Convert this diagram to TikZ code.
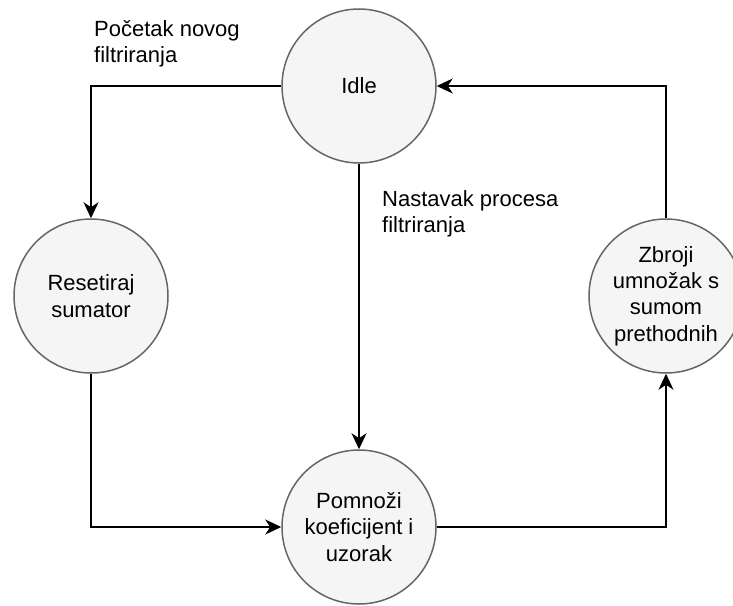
\documentclass[tikz,border=0pt]{standalone}
\usepackage{fontspec}
\setmainfont{Liberation Sans}
\usetikzlibrary{arrows.meta}
\definecolor{sivaispuna}{HTML}{F5F5F5}
\definecolor{sivirub}{HTML}{666666}
\tikzset{
 krug/.style={circle,draw=sivirub,fill=sivaispuna,line width=1.5pt,minimum size=154pt,inner sep=0pt,align=center,font=\fontsize{22}{26.4}\selectfont},
 veza/.style={-{Stealth[length=16pt,width=15pt,inset=5pt]},line width=1.8pt},
 oznaka/.style={anchor=north west,align=left,inner sep=0pt,font=\fontsize{22}{26.4}\selectfont}
}
\newcommand{\stanje}[3]{%
 \node[krug] ({#1}) at ({#2}) {#3};%
}

\begin{document}
\begin{tikzpicture}[x=1pt,y=-1pt]
   \useasboundingbox (0,0) rectangle (733,605);
   \stanje{idle}{359,86}{Idle};
   \stanje{reset}{91,296}{Resetiraj\\sumator};
   \stanje{mnozi}{359,527}{Pomnoži\\koeficijent i\\uzorak};
   \stanje{zbroji}{666,296}{Zbroji\\umnožak s\\sumom\\prethodnih};
   \draw[veza] (idle) -| (reset);
   \draw[veza] (reset) |- (mnozi);
   \draw[veza] (idle) -- (mnozi);
   \draw[veza] (mnozi) -| (zbroji);
   \draw[veza] (zbroji) |- (idle);
   \node[oznaka] (pocetak) at (94,20) {Početak novog\\filtriranja};
   \node[oznaka] (nastavak) at (382,190) {Nastavak procesa\\filtriranja};
\end{tikzpicture}
\end{document}
